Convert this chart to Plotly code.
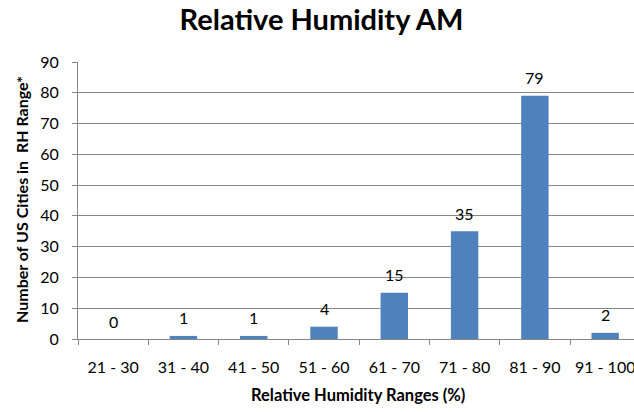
import plotly.graph_objects as go

categories = ["21 - 30", "31 - 40", "41 - 50", "51 - 60", "61 - 70", "71 - 80", "81 - 90", "91 - 100"]
counts = [0, 1, 1, 4, 15, 35, 79, 2]
y_ticks = [0, 10, 20, 30, 40, 50, 60, 70, 80, 90]

FONT = "Lato"
GRAY = "#868686"

fig = go.Figure()
fig.add_trace(go.Bar(
    x=categories, y=counts, width=0.39,
    marker=dict(color="#4F81BD", line=dict(width=0)),
    hoverinfo="x+y",
))

# data labels above the bars
for c, v in zip(categories, counts):
    fig.add_annotation(x=c, y=v, xref="x", yref="y", text=str(v),
                       showarrow=False, yanchor="middle", yshift=18,
                       font=dict(family=FONT, size=16, color="#000000"))

# axis titles
fig.add_annotation(text="<b>Relative Humidity Ranges (%)</b>", xref="paper", yref="paper",
                   x=0.503, y=-0.202, xanchor="center", yanchor="middle", showarrow=False,
                   font=dict(family=FONT, size=16.5, color="#000000"))
fig.add_annotation(text="<b>Number of US Cities in\u00a0 RH Range*</b>", xref="paper", yref="paper",
                   x=-0.1007, y=0.502, xanchor="center", yanchor="middle", showarrow=False,
                   textangle=-90,
                   font=dict(family=FONT, size=16, color="#000000"))

fig.update_layout(
    width=634, height=412,
    margin=dict(l=78, r=0, t=62, b=73),
    paper_bgcolor="white", plot_bgcolor="white",
    showlegend=False,
    title=dict(text="<b>Relative Humidity AM</b>", x=0.507, xanchor="center",
               y=0.953, yanchor="middle", yref="container",
               font=dict(family=FONT, size=29, color="#000000")),
    font=dict(family=FONT, size=16, color="#000000"),
)
fig.update_xaxes(
    type="category", range=[-0.5, 7.41], automargin=False,
    showgrid=False, showline=True, linecolor=GRAY, linewidth=1,
    ticks="outside", tickson="boundaries", ticklen=5, tickcolor=GRAY,
    ticklabelstandoff=14,
    tickfont=dict(family=FONT, size=16, color="#000000"),
)
fig.update_yaxes(
    range=[0, 90], tickvals=y_ticks, automargin=False,
    showgrid=True, gridcolor=GRAY, gridwidth=1,
    showline=True, linecolor=GRAY, linewidth=1,
    ticks="outside", ticklen=5, tickcolor=GRAY,
    ticklabelstandoff=10,
    tickfont=dict(family=FONT, size=16, color="#000000"),
    zeroline=False,
)

fig.write_html("out.html", config={"displayModeBar": False},
               post_script="document.body.style.margin='0';document.body.style.overflow='hidden';")
